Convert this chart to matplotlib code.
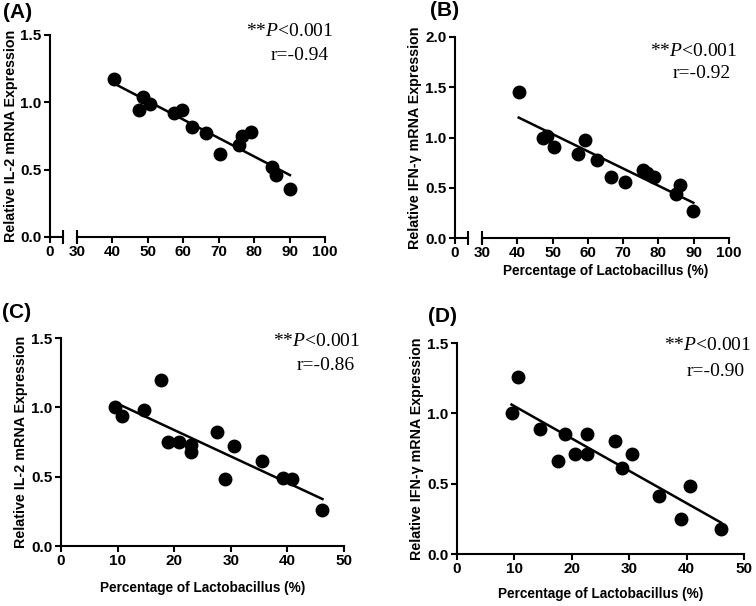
#------------------------------------------------------------------------------
# PROGRAM: plot.py
# Lactobacillus percentage vs relative IL-2 / IFN-gamma mRNA expression
#------------------------------------------------------------------------------

import numpy as np
import matplotlib
matplotlib.use('agg')
import matplotlib.pyplot as plt; plt.close('all')
from matplotlib import rcParams

#------------------------------------------------------------------------------
# DATA
#------------------------------------------------------------------------------

# (A) IL-2 vs Lactobacillus (%), first group
a_x = [40.5, 47.5, 48.6, 50.7, 57.3, 59.7, 62.5, 66.5, 70.5, 75.8, 76.7, 79.0, 84.9, 86.1, 90.1]
a_y = [1.17, 0.94, 1.04, 0.99, 0.92, 0.94, 0.82, 0.77, 0.62, 0.68, 0.75, 0.78, 0.52, 0.46, 0.36]

# (B) IFN-gamma vs Lactobacillus (%), first group
b_x = [40.4, 47.3, 48.5, 50.5, 57.3, 59.3, 62.5, 66.5, 70.5, 75.7, 76.9, 78.8, 85.0, 86.1, 89.9]
b_y = [1.45, 1.00, 1.01, 0.91, 0.84, 0.98, 0.78, 0.61, 0.555, 0.68, 0.65, 0.61, 0.44, 0.53, 0.265]

# (C) IL-2 vs Lactobacillus (%), second group
c_x = [9.6, 10.8, 14.7, 17.6, 18.9, 20.8, 22.9, 22.9, 27.6, 29.0, 30.6, 35.5, 39.2, 40.8, 46.2]
c_y = [1.00, 0.94, 0.98, 1.20, 0.75, 0.75, 0.73, 0.68, 0.82, 0.48, 0.72, 0.61, 0.49, 0.48, 0.26]

# (D) IFN-gamma vs Lactobacillus (%), second group
d_x = [9.5, 10.6, 14.5, 17.6, 18.8, 20.6, 22.7, 22.7, 27.5, 28.8, 30.5, 35.2, 39.0, 40.6, 46.0]
d_y = [1.00, 1.26, 0.89, 0.66, 0.85, 0.71, 0.85, 0.71, 0.80, 0.61, 0.71, 0.41, 0.25, 0.48, 0.18]

panel_labels = ['(A)', '(B)', '(C)', '(D)']
r_values = ['r=-0.94', 'r=-0.92', 'r=-0.86', 'r=-0.90']
ylabels = ['Relative IL-2 mRNA Expression', 'Relative IFN-\u03b3 mRNA Expression',
           'Relative IL-2 mRNA Expression', 'Relative IFN-\u03b3 mRNA Expression']
xlabelstr = 'Percentage of Lactobacillus (%)'
ptext = r'**$\mathit{P}$<0.001'

#------------------------------------------------------------------------------
# SETTINGS
#------------------------------------------------------------------------------

rcParams['font.family'] = 'sans-serif'
rcParams['font.sans-serif'] = ['Liberation Sans', 'DejaVu Sans']
rcParams['mathtext.fontset'] = 'custom'
rcParams['mathtext.it'] = 'Liberation Serif:italic'
rcParams['mathtext.rm'] = 'Liberation Serif'
rcParams['axes.linewidth'] = 1.5
rcParams['xtick.major.width'] = 1.5
rcParams['ytick.major.width'] = 1.5
rcParams['xtick.major.size'] = 4
rcParams['ytick.major.size'] = 4

W, H = 756, 606
ticksize = 11
ylabelsize = 10.3
xlabelsize = 9.8
annsize = 14
msize = 9

def box(l, r, t, b):
    # pixel box -> figure fraction rect
    return [l / W, 1 - b / H, (r - l) / W, (b - t) / H]

def style(ax, left=True):
    ax.spines['top'].set_visible(False)
    ax.spines['right'].set_visible(False)
    if not left:
        ax.spines['left'].set_visible(False)
        ax.tick_params(axis='y', left=False, labelleft=False)
    ax.tick_params(labelsize=ticksize, pad=2, colors='black')
    for t in ax.get_xticklabels() + ax.get_yticklabels():
        t.set_fontweight('bold')

def scatter_fit(ax, x, y):
    x = np.array(x); y = np.array(y)
    p = np.polyfit(x, y, 1)
    xx = np.array([x.min(), x.max()])
    ax.plot(xx, np.polyval(p, xx), color='black', lw=1.8, zorder=2, clip_on=False)
    ax.plot(x, y, 'o', color='black', ms=msize, zorder=3, clip_on=False)

def set_ylab(ax, k, l, r, xright):
    ax.set_ylabel(ylabels[k], fontsize=ylabelsize, fontweight='bold')
    ax.yaxis.set_label_coords((xright - l) / (r - l), 0.5)

fig = plt.figure(figsize=(W / 100, H / 100), dpi=100)

#------------------------------------------------------------------------------
# PANELS A, B: broken x axis (0 | 30-100)
#------------------------------------------------------------------------------

broken = [
    (a_x, a_y, (50, 63, 77, 325, 35, 237), 1.5, 0, 18),
    (b_x, b_y, (455, 468, 482, 729, 37, 238), 2.0, 1, 422),
]
for x, y, (l, le, rs, r, t, b), ymax, k, ylx in broken:
    axL = fig.add_axes(box(l, le, t, b))
    axR = fig.add_axes(box(rs, r, t, b), sharey=axL)
    axL.set_xlim(0, 3.7); axL.set_xticks([0])
    axR.set_xlim(30, 100); axR.set_xticks(np.arange(30, 101, 10))
    axL.set_ylim(0, ymax); axL.set_yticks(np.arange(0, ymax + 0.01, 0.5))
    axL.yaxis.set_major_formatter(matplotlib.ticker.FormatStrFormatter('%.1f'))
    style(axL); style(axR, left=False)
    # segment end bars
    axL.plot([1], [0], transform=axL.transAxes, marker='|', ms=10, mew=1.5, color='black', clip_on=False)
    axR.plot([0], [0], transform=axR.transAxes, marker='|', ms=10, mew=1.5, color='black', clip_on=False)
    scatter_fit(axR, x, y)
    set_ylab(axL, k, l, le, ylx)
    if k == 1:
        axR.set_xlabel(xlabelstr, fontsize=xlabelsize, fontweight='bold', labelpad=3)

#------------------------------------------------------------------------------
# PANELS C, D
#------------------------------------------------------------------------------

normal = [
    (c_x, c_y, (61, 344, 338, 546), 2, 28, 9),
    (d_x, d_y, (457, 744, 343, 554), 3, 424, 8),
]
for x, y, (l, r, t, b), k, ylx, xpad in normal:
    ax = fig.add_axes(box(l, r, t, b))
    ax.set_xlim(0, 50); ax.set_xticks(np.arange(0, 51, 10))
    ax.set_ylim(0, 1.5); ax.set_yticks([0, 0.5, 1.0, 1.5])
    ax.yaxis.set_major_formatter(matplotlib.ticker.FormatStrFormatter('%.1f'))
    style(ax)
    scatter_fit(ax, x, y)
    set_ylab(ax, k, l, r, ylx)
    ax.set_xlabel(xlabelstr, fontsize=xlabelsize, fontweight='bold', labelpad=xpad)

#------------------------------------------------------------------------------
# TEXT: panel letters and statistics
#------------------------------------------------------------------------------

letter_pos = [(3, 13), (430, 11), (2, 313), (428, 317)]
p_pos = [(333, 32), (737, 51), (360, 341), (751, 346)]
r_pos = [(329, 55), (731, 74), (355, 365), (745, 371)]
for k in range(4):
    fig.text(letter_pos[k][0] / W, 1 - letter_pos[k][1] / H, panel_labels[k],
             fontsize=15, fontweight='bold', va='center', ha='left')
    fig.text(p_pos[k][0] / W, 1 - p_pos[k][1] / H, ptext, family='Liberation Serif',
             fontsize=annsize, va='center', ha='right')
    fig.text(r_pos[k][0] / W, 1 - r_pos[k][1] / H, r_values[k], family='Liberation Serif',
             fontsize=annsize, va='center', ha='right')

plt.savefig('out.png', dpi=100, facecolor='white')
plt.close(fig)
print('** END')
